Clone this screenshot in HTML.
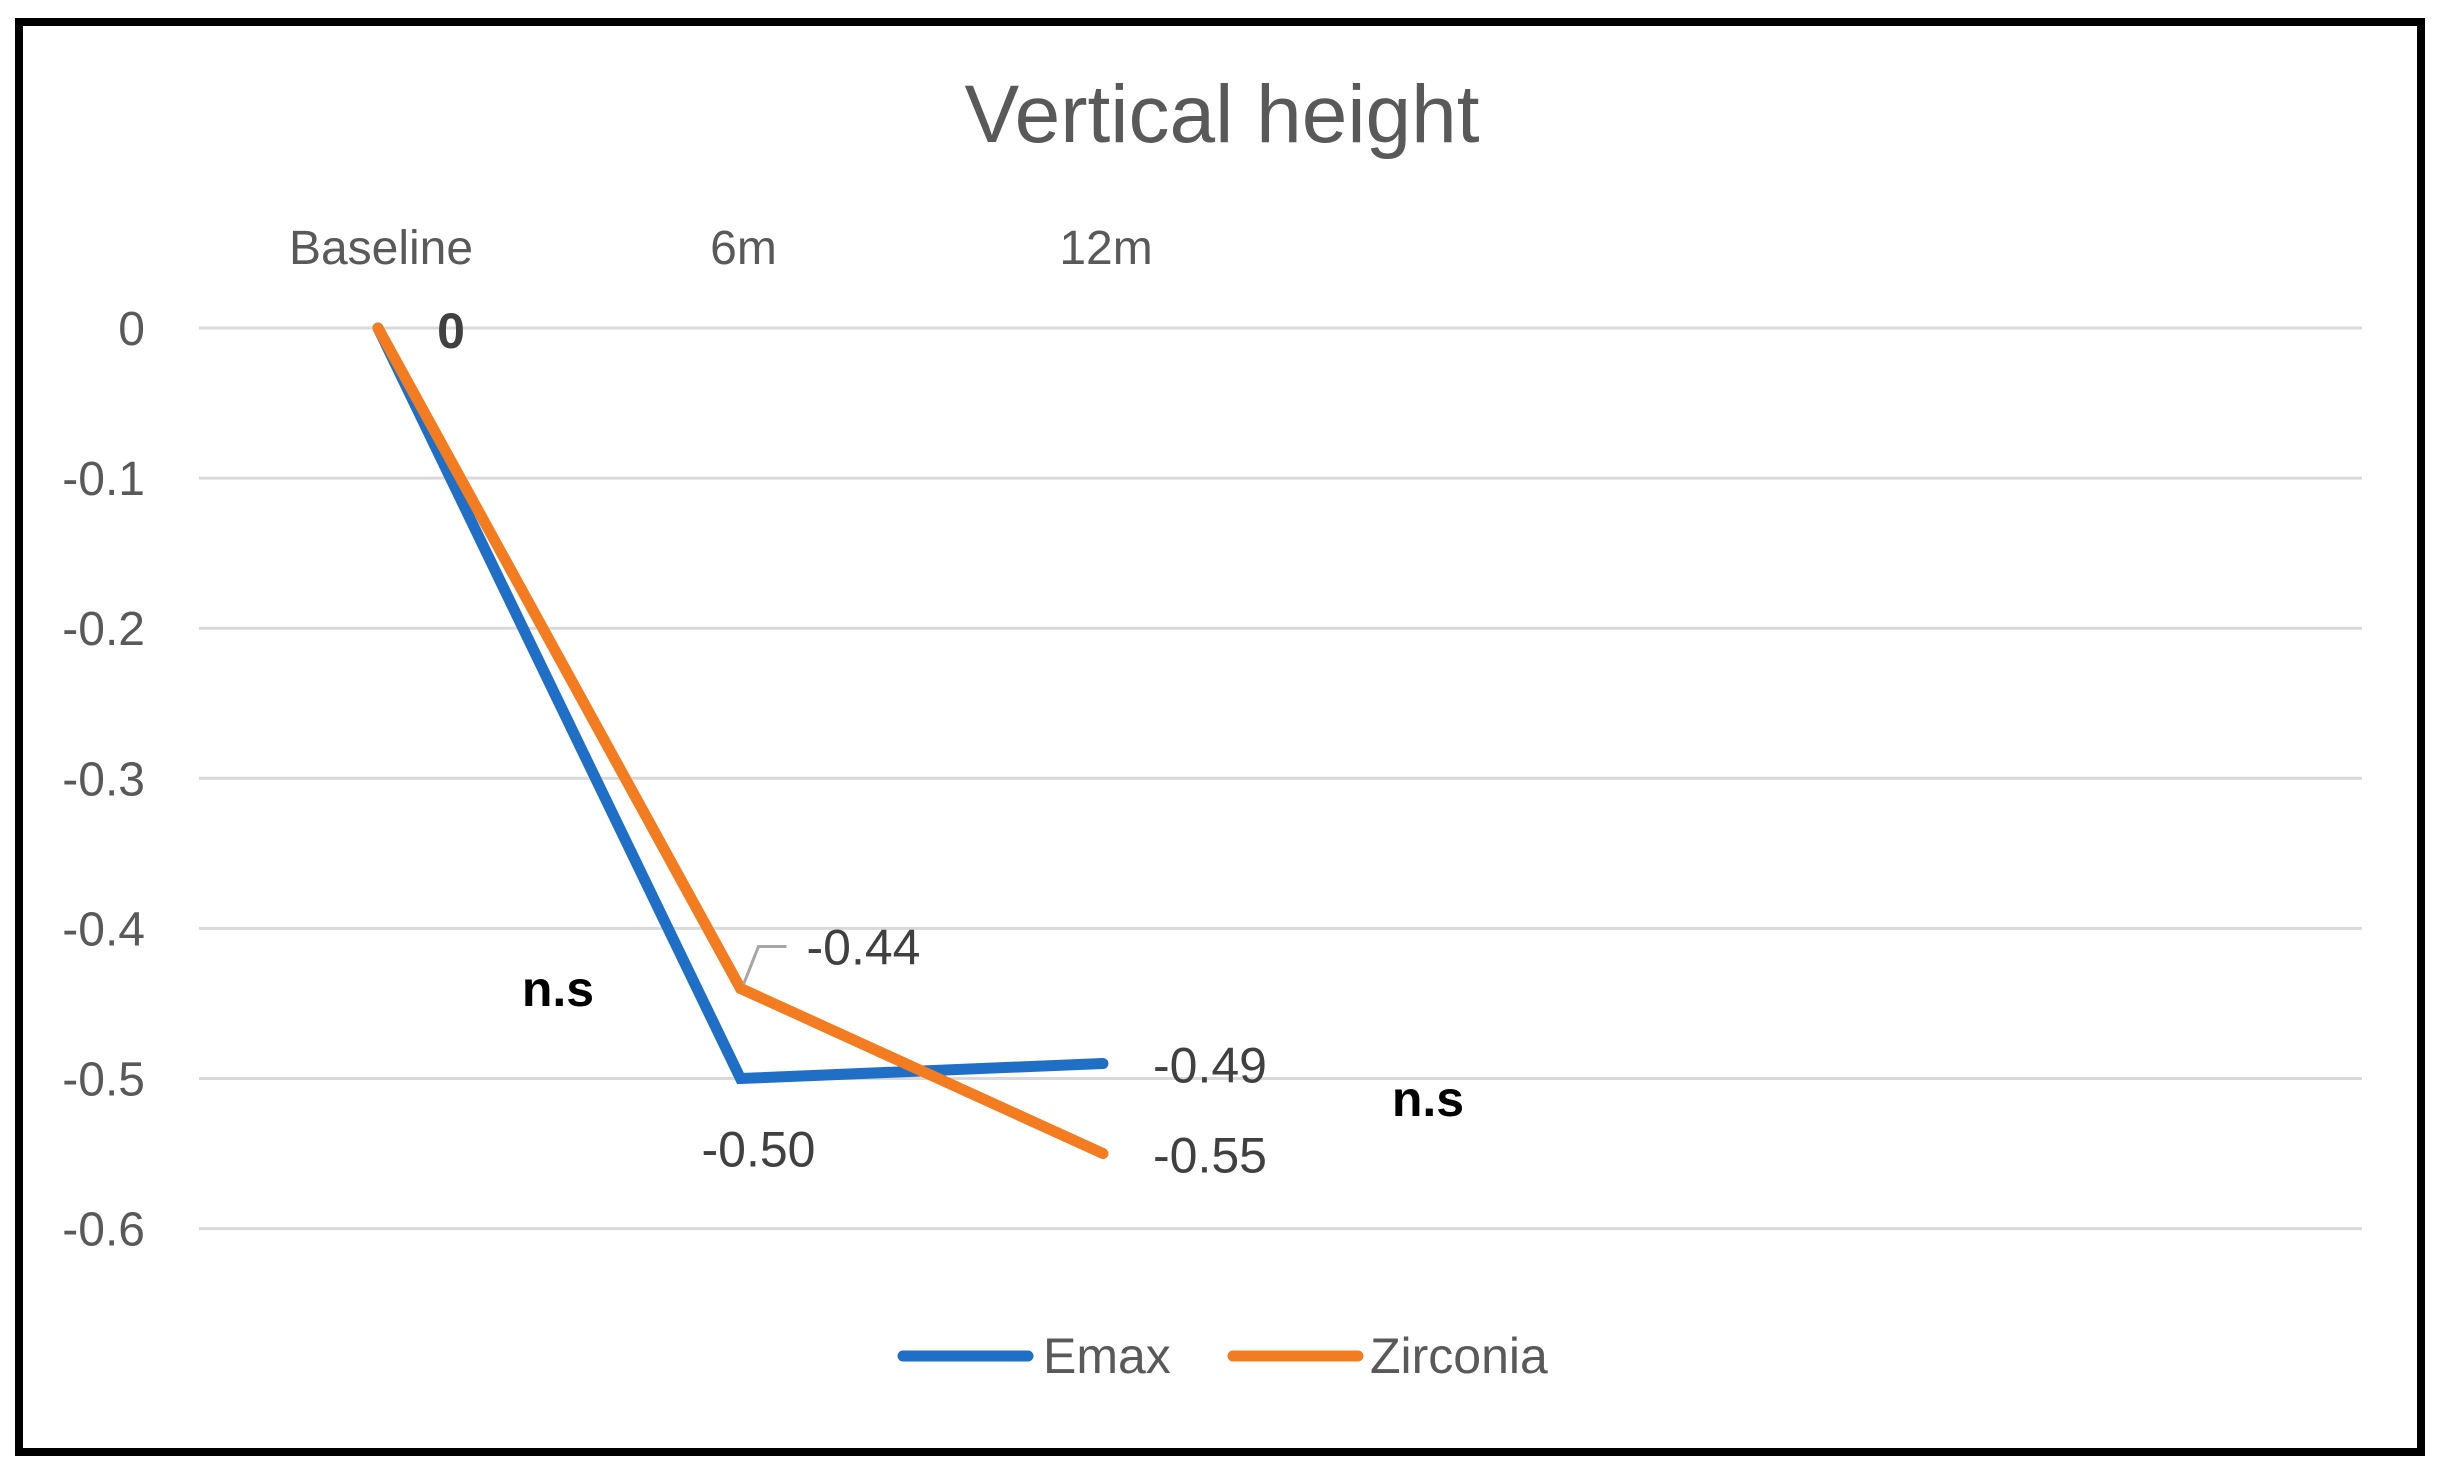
<!DOCTYPE html>
<html><head><meta charset="utf-8"><style>
html,body{margin:0;padding:0;background:#fff;}
svg{display:block;font-family:"Liberation Sans",sans-serif;}
</style></head><body>
<svg id="chart" width="2440" height="1476" viewBox="0 0 2440 1476">
<rect x="19" y="22" width="2402" height="1430" fill="#fff" stroke="#000" stroke-width="8"/>
<text x="1222" y="142" text-anchor="middle" font-size="82" fill="#595959">Vertical height</text>
<g id="grid"></g><g id="ylabels"></g><g id="xlabels"></g><g id="series"></g><g id="labels"></g>
<g>
<line x1="903" y1="1356" x2="1028" y2="1356" stroke="#1f6fc6" stroke-width="11" stroke-linecap="round"/>
<text x="1043" y="1373" font-size="50" fill="#595959">Emax</text>
<line x1="1233" y1="1356" x2="1358" y2="1356" stroke="#f47c20" stroke-width="11" stroke-linecap="round"/>
<text x="1370" y="1373" font-size="50" fill="#595959">Zirconia</text>
</g>
<text x="558" y="1006" text-anchor="middle" font-size="50" font-weight="bold" fill="#000">n.s</text>
<text x="1428" y="1116" text-anchor="middle" font-size="50" font-weight="bold" fill="#000">n.s</text>
</svg>
<script>
const categories = ["Baseline","6m","12m"];
const emax = [0, -0.50, -0.49];
const zirconia = [0, -0.44, -0.55];
const yTicks = [0, -0.1, -0.2, -0.3, -0.4, -0.5, -0.6];
const yTickLabels = ["0","-0.1","-0.2","-0.3","-0.4","-0.5","-0.6"];
const emaxLabels = ["", "-0.50", "-0.49"];
const zirLabels = ["0", "-0.44", "-0.55"];

const NS="http://www.w3.org/2000/svg";
function xs(i){return 378 + i*362.5;}
function ys(v){return 328 + (-v)*1501;}
function mk(tag,attrs,parent,txt){const e=document.createElementNS(NS,tag);for(const k in attrs)e.setAttribute(k,attrs[k]);if(txt!==undefined)e.textContent=txt;document.getElementById(parent).appendChild(e);return e;}

yTicks.forEach((t,i)=>{
  const g=mk('line',{x1:199,x2:2362,y1:ys(t),y2:ys(t),stroke:'#d9d9d9','stroke-width':3},'grid');
  
  
  const l=mk('text',{x:145,y:ys(t)+17,'text-anchor':'end','font-size':48,fill:'#595959'},'ylabels',yTickLabels[i]);
  
  
});
categories.forEach((c,i)=>{
  const l=mk('text',{x:xs(i)+3,y:264,'text-anchor':'middle','font-size':48,fill:'#595959'},'xlabels',c);
  
  
});
function pts(arr){return arr.map((v,i)=>xs(i)+','+ys(v)).join(' ');}
const pe=mk('polyline',{points:pts(emax),fill:'none',stroke:'#1f6fc6','stroke-width':11,'stroke-linejoin':'miter','stroke-linecap':'round'},'series');


const pz=mk('polyline',{points:pts(zirconia),fill:'none',stroke:'#f47c20','stroke-width':11,'stroke-linejoin':'miter','stroke-linecap':'round'},'series');



const lz0=mk('text',{x:xs(0)+73,y:ys(zirconia[0])+20,'text-anchor':'middle','font-size':50,'font-weight':'bold',fill:'#404040'},'labels',zirLabels[0]);


const lead=mk('polyline',{points:(xs(1)+3)+','+(ys(zirconia[1])-4)+' '+(xs(1)+18)+','+(ys(zirconia[1])-42)+' '+(xs(1)+46)+','+(ys(zirconia[1])-42),fill:'none',stroke:'#a6a6a6','stroke-width':3},'labels');


const lz1=mk('text',{x:xs(1)+66,y:ys(zirconia[1])-24,'font-size':50,fill:'#404040'},'labels',zirLabels[1]);


const lz2=mk('text',{x:xs(2)+50,y:ys(zirconia[2])+19,'font-size':50,fill:'#404040'},'labels',zirLabels[2]);


const le1=mk('text',{x:xs(1)+18,y:ys(emax[1])+88,'text-anchor':'middle','font-size':50,fill:'#404040'},'labels',emaxLabels[1]);


const le2=mk('text',{x:xs(2)+50,y:ys(emax[2])+19,'font-size':50,fill:'#404040'},'labels',emaxLabels[2]);


</script>
</body></html>
